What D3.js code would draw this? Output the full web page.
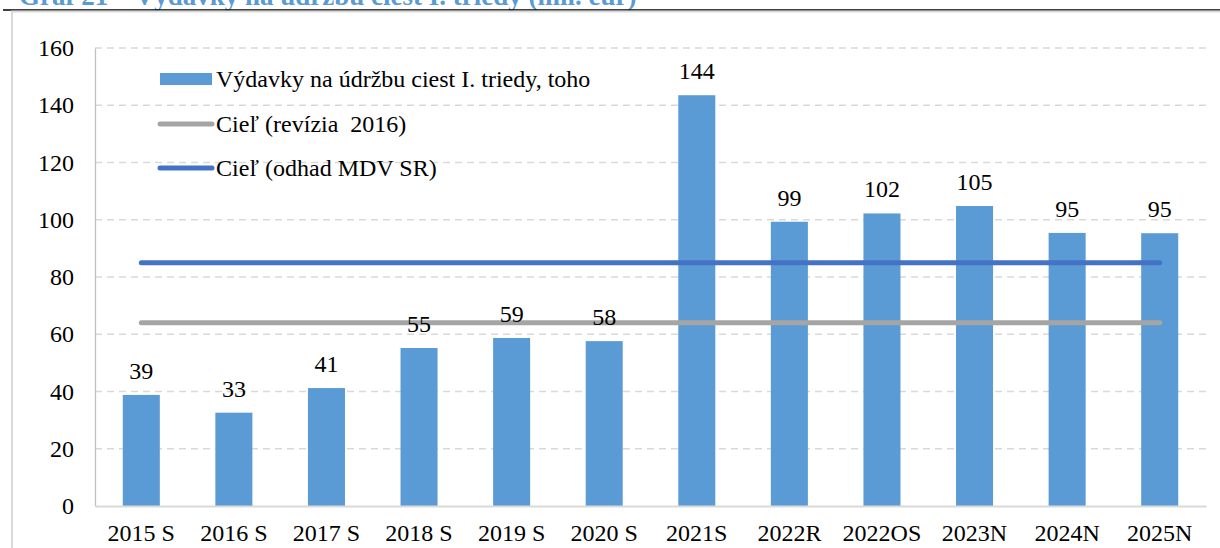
<!DOCTYPE html>
<html><head><meta charset="utf-8">
<script src="https://cdn.jsdelivr.net/npm/d3@7"></script>
<style>body{margin:0;background:#fff;}svg{display:block;} svg text{font-family:"Liberation Serif","Times New Roman","DejaVu Serif",serif !important;}</style>
</head><body>
<svg id="c" width="1220" height="548"></svg>
<script>
const categories = ["2015 S","2016 S","2017 S","2018 S","2019 S","2020 S","2021S","2022R","2022OS","2023N","2024N","2025N"];
const spending = [38.8, 32.6, 41.2, 55.2, 58.7, 57.6, 143.5, 99.3, 102.2, 104.8, 95.4, 95.3];
const targetRevision = [64,64,64,64,64,64,64,64,64,64,64,64];
const targetMDV = [85,85,85,85,85,85,85,85,85,85,85,85];
const yTicks = [0,20,40,60,80,100,120,140,160];
const seriesNames = ["Výdavky na údržbu ciest I. triedy, toho","Cieľ (revízia  2016)","Cieľ (odhad MDV SR)"];
const title = "Graf 21 – Výdavky na údržbu ciest I. triedy (mil. eur)";

const svg = d3.select("#c");
const m = {l:95, r:14, t:48, b:42};
const W = 1220, H = 548;
const FS = 24;
const x = d3.scaleBand().domain(categories).range([m.l, W - m.r]).paddingInner(0.6).paddingOuter(0.3);
const y = d3.scaleLinear().domain([0,160]).range([H - m.b, m.t]);

// title + rule + frame
svg.append("text").attr("x", 19).attr("y", 5).attr("font-weight","bold")
  .attr("font-size", 27).attr("fill", "#5b9bd5").text(title);
svg.append("line").attr("x1",3).attr("x2",W).attr("y1",10).attr("y2",10).attr("stroke","#000").attr("stroke-width",1.5);
svg.append("rect").attr("x",12).attr("y",11.5).attr("width",W+20).attr("height",H+20)
  .attr("fill","none").attr("stroke","#d9d9d9").attr("stroke-width",2);

// grid
svg.append("g").selectAll("line").data(yTicks.filter(d=>d>0)).join("line")
  .attr("x1", m.l).attr("x2", W - m.r).attr("y1", d=>y(d)).attr("y2", d=>y(d))
  .attr("stroke","#d9d9d9").attr("stroke-width",1.3).attr("stroke-dasharray","7,5");

// y axis
const ya = svg.append("g").attr("transform",`translate(${m.l},0)`)
  .call(d3.axisLeft(y).tickValues(yTicks).tickSize(0).tickPadding(21));
ya.select(".domain").attr("stroke","#bfbfbf").attr("stroke-width",1.3);
ya.selectAll("text").attr("font-size",FS).attr("fill","#000");

// bars
svg.append("g").selectAll("rect").data(spending).join("rect")
  .attr("x",(d,i)=>x(categories[i])).attr("width",x.bandwidth())
  .attr("y",d=>y(d)).attr("height",d=>y(0)-y(d)).attr("fill","#5b9bd5");

// x axis
const xa = svg.append("g").attr("transform",`translate(0,${y(0)})`)
  .call(d3.axisBottom(x).tickSize(0).tickPadding(18));
xa.select(".domain").attr("stroke","#d9d9d9").attr("stroke-width",2);
xa.selectAll("text").attr("font-size",FS).attr("fill","#000").attr("dy","0.71em");

// target lines
const line = d3.line().x((d,i)=>x(categories[i])+x.bandwidth()/2).y(d=>y(d));
svg.append("path").datum(targetRevision).attr("d",line).attr("fill","none")
  .attr("stroke","#a5a5a5").attr("stroke-width",5).attr("stroke-linecap","round");
svg.append("path").datum(targetMDV).attr("d",line).attr("fill","none")
  .attr("stroke","#4472c4").attr("stroke-width",5).attr("stroke-linecap","round");

// bar labels (drawn on top of lines)
svg.append("g").selectAll("text").data(spending).join("text")
  .attr("x",(d,i)=>x(categories[i])+x.bandwidth()/2).attr("y",d=>y(d)-16)
  .attr("text-anchor","middle").attr("font-size",FS).attr("fill","#000")
  .text(d=>Math.round(d));

// legend
const lg = svg.append("g");
const ly = [79, 124, 168];
lg.append("rect").attr("x",160).attr("y",ly[0]-6).attr("width",52).attr("height",12).attr("fill","#5b9bd5");
lg.append("line").attr("x1",160).attr("x2",212).attr("y1",ly[1]).attr("y2",ly[1]).attr("stroke","#a5a5a5").attr("stroke-width",5).attr("stroke-linecap","round");
lg.append("line").attr("x1",160).attr("x2",212).attr("y1",ly[2]).attr("y2",ly[2]).attr("stroke","#4472c4").attr("stroke-width",5).attr("stroke-linecap","round");
lg.selectAll("text").data(seriesNames).join("text")
  .attr("x",216).attr("y",(d,i)=>ly[i]).attr("dy","0.35em")
  .attr("font-size",FS).attr("fill","#000")
  .style("white-space","pre").text(d=>d);
</script>
</body></html>
